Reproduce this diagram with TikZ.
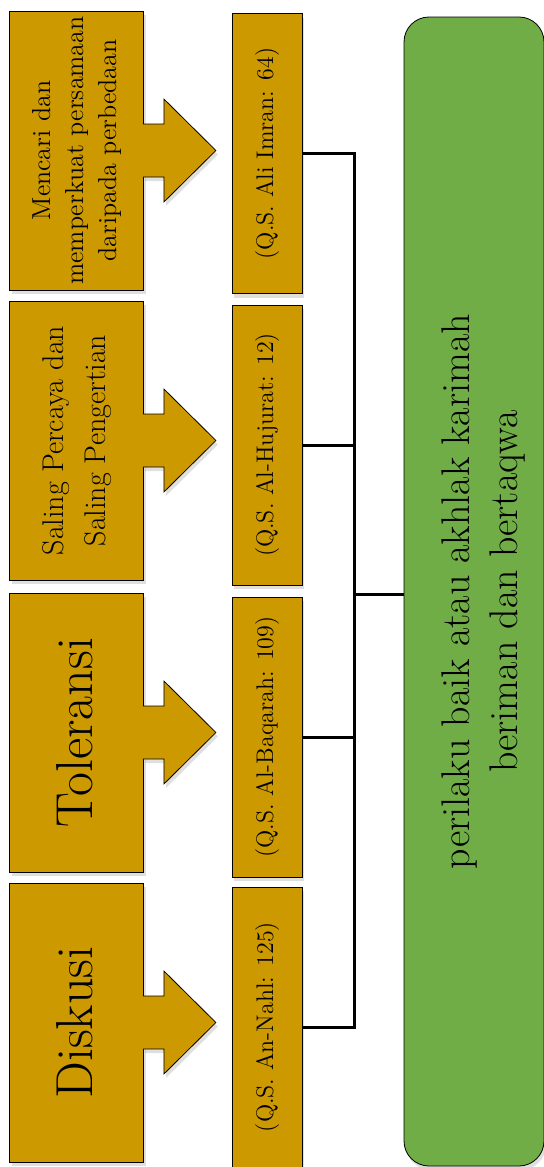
\documentclass[tikz,border=0pt]{standalone}
\usepackage{fontspec}
\usepackage{graphicx}
\usetikzlibrary{shadows}

\definecolor{gold}{HTML}{CC9900}
\definecolor{leaf}{HTML}{70AD47}

% rotated text, read from bottom to top
\newcommand{\uptext}[3]{\rotatebox{90}{\fontsize{#1}{#2}\selectfont\begin{tabular}{@{}c@{}}#3\end{tabular}}}

\begin{document}
\begin{tikzpicture}[x=0.5pt,y=-0.5pt,
    shade/.style={drop shadow={shadow xshift=1pt,shadow yshift=-2pt,opacity=.25}},
    topic/.style={draw,fill=gold,inner sep=0pt,minimum width=67pt,minimum height=139.5pt,shade},
    verse/.style={draw,fill=gold,inner sep=0pt,minimum width=35pt,minimum height=140pt,shade},
    pointer/.style={draw,fill=gold,line join=miter,shade},
    link/.style={line width=1.5pt}]
  \useasboundingbox (0,0) rectangle (543,1167);

  \node[topic] (t1) at (76.5,150.5) {\uptext{13}{16.5}{Mencari dan\\ memperkuat persamaan\\ daripada perbedaan}};
  \node[topic] (t2) at (76.5,440.5) {\uptext{15}{21}{Saling Percaya dan\\ Saling Pengertian}};
  \node[topic] (t3) at (76.5,732.5) {\uptext{26}{30}{Toleransi}\hspace*{-4pt}};
  \node[topic] (t4) at (76.5,1022.5) {\uptext{26}{30}{Diskusi}\hspace*{-4pt}};

  \node[verse] (q1) at (267,153.5) {\uptext{12}{15}{(Q.S. Ali Imran: 64)}};
  \node[verse] (q2) at (267,445) {\uptext{12}{15}{(Q.S. Al-Hujurat: 12)}};
  \node[verse] (q3) at (267,737) {\uptext{12}{15}{(Q.S. Al-Baqarah: 109)}};
  \node[verse] (q4) at (267,1027) {\uptext{12}{15}{(Q.S. An-Nahl: 125)}};

  \node[draw,fill=leaf,rounded corners=12.5pt,inner sep=0pt,minimum width=70pt,minimum height=574.5pt,shade]
    (g) at (474,591.5) {\hspace*{10pt}\uptext{20}{24}{perilaku baik atau akhlak karimah\\ beriman dan bertaqwa}};

  % fat arrows
  \filldraw[pointer] (t1.east) ++(-1,-26.5) -- ++(21,0) -- ++(0,-25) -- ++(52,51.5) -- ++(-52,51.5) -- ++(0,-25) -- ++(-21,0);
  \filldraw[pointer] (t2.east) ++(-1,-26.5) -- ++(21,0) -- ++(0,-25) -- ++(52,51.5) -- ++(-52,51.5) -- ++(0,-25) -- ++(-21,0);
  \filldraw[pointer] (t3.east) ++(-1,-26.5) -- ++(21,0) -- ++(0,-25) -- ++(52,51.5) -- ++(-52,51.5) -- ++(0,-25) -- ++(-21,0);
  \filldraw[pointer] (t4.east) ++(-1,-26.5) -- ++(21,0) -- ++(0,-25) -- ++(52,51.5) -- ++(-52,51.5) -- ++(0,-25) -- ++(-21,0);

  % bracket
  \coordinate (j) at (354,594);
  \draw[link] (q1.east) -| (j) |- (q4.east);
  \draw[link] (q2.east) -- (q2.east -| j);
  \draw[link] (q3.east) -- (q3.east -| j);
  \draw[link] (j) -- (g.west |- j);
\end{tikzpicture}
\end{document}
